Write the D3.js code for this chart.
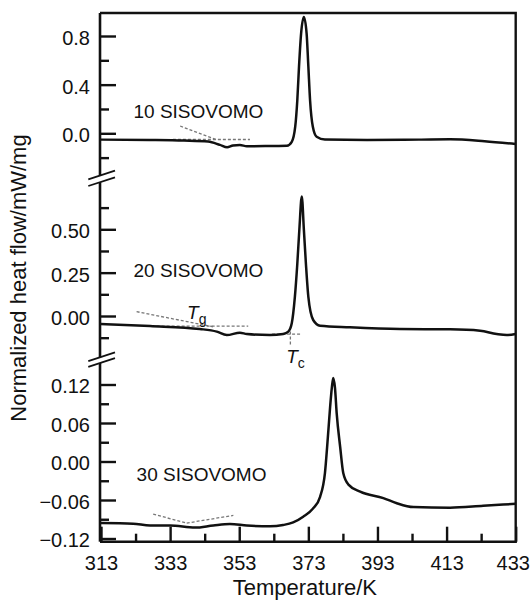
<!DOCTYPE html>
<html>
<head>
<meta charset="utf-8">
<script src="https://cdn.jsdelivr.net/npm/d3@7"></script>
<style>
  body { margin: 0; background: #fff; }
  svg text { font-family: "Liberation Sans", Arial, sans-serif; fill: #111; }
</style>
</head>
<body>
<svg id="chart" width="530" height="600"></svg>
<script>
// temperature ticks (K)
const xMajor = [313, 333, 353, 373, 393, 413, 433];
const xMinor = [323, 343, 363, 383, 403, 423];

// heat flow ticks per panel (mW/mg)
const ticks10 = [0.0, 0.4, 0.8];
const minor10 = [-0.2, 0.2, 0.6];
const ticks20 = [0.0, 0.25, 0.5];
const minor20 = [-0.125, 0.125, 0.375, 0.625];
const ticks30 = [-0.12, -0.06, 0.0, 0.06, 0.12];
const minor30 = [-0.09, -0.03, 0.03, 0.09];

// DSC curves, [T, heat flow]
const curve10 = [
  [313, -0.052], [327, -0.055], [337, -0.06], [344, -0.068], [347.4, -0.095],
  [349.5, -0.115], [351.2, -0.1], [353.2, -0.097], [355.2, -0.106], [362, -0.104],
  [366.8, -0.102], [368.2, -0.07], [369.2, 0.054], [369.8, 0.27], [370.3, 0.55],
  [370.9, 0.82], [371.7, 0.957], [372.5, 0.82], [373, 0.55], [373.5, 0.27],
  [374.3, 0.054], [375.4, -0.028], [377.8, -0.051], [390, -0.055], [405, -0.052],
  [414, -0.049], [424, -0.065], [433, -0.088]
];
const curve20 = [
  [313, -0.046], [327.2, -0.058], [341.6, -0.075], [346.5, -0.09], [349.4, -0.11],
  [353.2, -0.096], [355.2, -0.104], [361.9, -0.11], [365.7, -0.104], [367.2, -0.09],
  [368.2, -0.042], [369.1, 0.11], [369.8, 0.3], [370.4, 0.5], [371.1, 0.689],
  [371.7, 0.5], [372.3, 0.3], [373, 0.11], [374.4, -0.023], [376.4, -0.056],
  [385, -0.065], [399.5, -0.075], [414, -0.077], [422.7, -0.085], [427.5, -0.104],
  [430.4, -0.11], [433, -0.104]
];
const curve30 = [
  [313, -0.096], [322.3, -0.097], [327.2, -0.0997], [333, -0.0997], [340.2, -0.103],
  [345.5, -0.0997], [350.3, -0.0975], [355.2, -0.0997], [361.9, -0.101], [365.7, -0.099],
  [368.6, -0.095], [371.5, -0.086], [374.4, -0.073], [376.4, -0.055], [377.8, -0.018],
  [378.8, 0.049], [379.3, 0.085], [379.8, 0.115], [380.2, 0.13], [380.7, 0.115],
  [381.2, 0.075], [382.2, 0.023], [383.1, -0.018], [384.6, -0.036], [388, -0.047],
  [394.7, -0.057], [398.6, -0.065], [403.4, -0.071], [414, -0.072], [423.6, -0.069],
  [433, -0.066]
];

// tangent construction lines, [T, heat flow]
const guides10 = [
  [[333.8, -0.051], [356.1, -0.051]],
  [[335.9, 0.06], [346.6, -0.055]]
];
const guides20 = [
  [[329.1, -0.058], [355.6, -0.058]],
  [[323.3, 0.025], [345.4, -0.062]],
  [[362.5, -0.105], [371.1, -0.105]],
  [[367.8, -0.06], [367.8, -0.175]]
];
const guides30 = [
  [[328.1, -0.082], [337.8, -0.096]],
  [[337.8, -0.096], [351.3, -0.084]]
];

const seriesNames = ["10 SISOVOMO", "20 SISOVOMO", "30 SISOVOMO"];
const nameAt = [[322.4, 0.123], [322.4, 0.227], [323.3, -0.031]];

const svg = d3.select("#chart");
const frameL = 100, frameR = 515.7, frameT = 13, frameB = 541.7;

const x = d3.scaleLinear().domain([313, 433]).range([101, 515.7]);
const y10 = d3.scaleLinear().domain([0, 0.8]).range([133.3, 36]);
const y20 = d3.scaleLinear().domain([0, 0.5]).range([316, 229.3]);
const y30 = d3.scaleLinear().domain([-0.12, 0.12]).range([538.5, 384.5]);

const dash = s => s.replace("-", "\u2013");

const panels = [
  { y: y10, ticks: ticks10, minor: minor10, fmt: d3.format(".1f"), curve: curve10, guides: guides10, y0: frameT, y1: 175.5 },
  { y: y20, ticks: ticks20, minor: minor20, fmt: d3.format(".2f"), curve: curve20, guides: guides20, y0: 182.2, y1: 357.3 },
  { y: y30, ticks: ticks30, minor: minor30, fmt: d3.format(".2f"), curve: curve30, guides: guides30, y0: 363, y1: frameB }
];

// frame
svg.append("path")
  .attr("d", `M${frameL},${frameT}H${frameR}V${frameB}H${frameL}`)
  .attr("fill", "none")
  .attr("stroke", "#111")
  .attr("stroke-width", 2.4);

panels.forEach((p, i) => {
  svg.append("line")
    .attr("x1", frameL).attr("x2", frameL)
    .attr("y1", p.y0).attr("y2", p.y1)
    .attr("stroke", "#111").attr("stroke-width", 2.6);

  const major = svg.append("g")
    .attr("transform", `translate(${frameL},0)`)
    .call(d3.axisLeft(p.y).tickValues(p.ticks).tickSize(-16).tickPadding(10)
      .tickFormat(d => dash(p.fmt(d))));
  major.select(".domain").remove();
  major.selectAll("line").attr("stroke", "#111").attr("stroke-width", 2.4);
  major.selectAll("text")
    .attr("font-size", 20)
    .attr("dy", "0.42em")
    .style("font-family", "'Liberation Sans', Arial, sans-serif");

  const minorAxis = svg.append("g")
    .attr("transform", `translate(${frameL},0)`)
    .call(d3.axisLeft(p.y).tickValues(p.minor).tickSize(-9).tickFormat(""));
  minorAxis.select(".domain").remove();
  minorAxis.selectAll("line").attr("stroke", "#111").attr("stroke-width", 2.4);

  const line = d3.line()
    .x(d => x(d[0]))
    .y(d => p.y(d[1]))
    .curve(d3.curveMonotoneX);

  svg.append("g")
    .selectAll("path")
    .data(p.guides)
    .join("path")
    .attr("d", d3.line().x(d => x(d[0])).y(d => p.y(d[1])))
    .attr("fill", "none")
    .attr("stroke", "#777")
    .attr("stroke-width", 1.3)
    .attr("stroke-dasharray", "3,2");

  svg.append("path")
    .datum(p.curve)
    .attr("d", line)
    .attr("fill", "none")
    .attr("stroke", "#111")
    .attr("stroke-width", 2.5)
    .attr("stroke-linejoin", "round");

  svg.append("text")
    .attr("x", x(nameAt[i][0]))
    .attr("y", p.y(nameAt[i][1]))
    .attr("font-size", 19)
    .text(seriesNames[i]);
});

// axis breaks
[[175.5, 182.2], [357.3, 363]].forEach(pair => {
  pair.forEach(yy => {
    svg.append("line")
      .attr("x1", 88.3).attr("y1", yy + 3.8)
      .attr("x2", 115).attr("y2", yy - 4.9)
      .attr("stroke", "#111").attr("stroke-width", 1.8);
  });
});

// x axis ticks
const xMaj = svg.append("g")
  .attr("transform", `translate(0,${frameB})`)
  .call(d3.axisBottom(x).tickValues(xMajor).tickSize(-15).tickPadding(14).tickFormat(d3.format("d")));
xMaj.select(".domain").remove();
xMaj.selectAll("line").attr("stroke", "#111").attr("stroke-width", 2.4);
xMaj.selectAll("text")
  .attr("font-size", 20)
  .attr("dx", d => d === 433 ? -3 : 0)
  .style("font-family", "'Liberation Sans', Arial, sans-serif");

const xMin = svg.append("g")
  .attr("transform", `translate(0,${frameB})`)
  .call(d3.axisBottom(x).tickValues(xMinor).tickSize(-8).tickFormat(""));
xMin.select(".domain").remove();
xMin.selectAll("line").attr("stroke", "#111").attr("stroke-width", 2.4);

// Tg and Tc marks
const tg = svg.append("text")
  .attr("x", x(337.9)).attr("y", y20(-0.02))
  .attr("font-size", 19);
tg.append("tspan").attr("font-style", "italic").text("T");
tg.append("tspan").attr("dy", 5).attr("font-size", 14).text("g");

const tc = svg.append("text")
  .attr("x", x(366.6)).attr("y", y20(-0.271))
  .attr("font-size", 19);
tc.append("tspan").attr("font-style", "italic").text("T");
tc.append("tspan").attr("dy", 5).attr("font-size", 14).text("c");

// axis titles
svg.append("text")
  .attr("x", (frameL + frameR) / 2 - 3)
  .attr("y", 595)
  .attr("text-anchor", "middle")
  .attr("font-size", 22)
  .text("Temperature/K");

svg.append("text")
  .attr("transform", "translate(26,278) rotate(-90)")
  .attr("text-anchor", "middle")
  .attr("font-size", 22)
  .text("Normalized heat flow/mW/mg");
</script>
</body>
</html>
